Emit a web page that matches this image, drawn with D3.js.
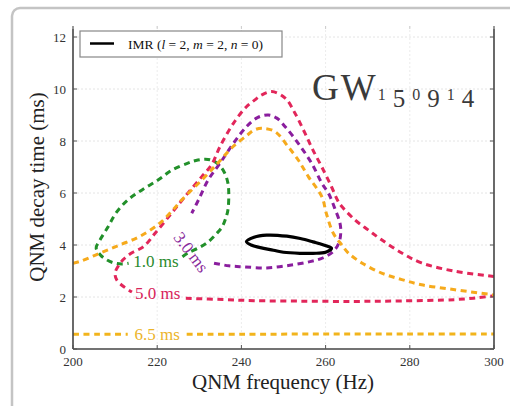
<!DOCTYPE html>
<html><head><meta charset="utf-8">
<script src="https://cdn.jsdelivr.net/npm/d3@7"></script>
<style>html,body{margin:0;padding:0;background:#fff;} svg{display:block;}</style>
</head><body><svg id="c" width="510" height="406"></svg>
<script>
// ---------- data ----------
const xTicks = [200, 220, 240, 260, 280, 300];
const yTicks = [0, 2, 4, 6, 8, 10, 12];
const xLabel = "QNM frequency (Hz)";
const yLabel = "QNM decay time (ms)";
const eventName = ["GW", "1", "5", "0", "9", "1", "4"];

// IMR posterior contour (closed), [frequency Hz, decay time ms]
const imr = [[241.2,4.13],[243,4.3],[246,4.38],[250.8,4.34],[254,4.25],[257,4.12],[260.3,3.96],[261.4,3.87],
  [260,3.72],[257,3.68],[253.9,3.68],[250,3.72],[247.6,3.8],[244.5,3.9],[242.3,4.0]];

// Contours for different start times (null = gap for inline label)
const c1ms = [[226.0,3.55],[227.3,3.69],[230.2,3.92],[232.1,4.12],[234,4.42],[235.4,4.69],[236.3,5.04],[236.8,5.35],
  [237,5.92],[236.8,6.38],[235.9,6.81],[234.4,7.12],[232.8,7.27],[231.4,7.3],[229.2,7.25],[227.3,7.15],[223.5,6.88],
  [220.2,6.5],[216.4,6.12],[213,5.73],[210.2,5.23],[208.3,4.69],[206.4,4.19],[205.5,3.88],[206.5,3.62],[208.1,3.42],
  [209.7,3.31],[211.6,3.27],[213.2,3.3]];
const c3ms = [[233.5,3.3],[237,3.2],[240.5,3.16],[246,3.12],[251.5,3.22],[256.3,3.36],[259.3,3.5],[261.8,3.75],
  [263.2,4.1],[263.6,4.5],[263.4,4.85],[262.2,5.4],[260.8,5.95],[259.1,6.38],[256.7,7.14],[253.5,7.91],[250.4,8.55],
  [248.4,8.88],[246.4,9.0],[243.8,8.9],[241.2,8.55],[238.1,7.91],[234.9,7.14],[232.1,6.5],[229.8,5.73],[228.2,5.22]];
const c5ms = [[300,2.79],[299.5,2.8],[290.7,2.99],[282.8,3.31],[278.1,3.69],[273.3,4.2],[270.1,4.58],[267,4.96],
  [263.8,5.49],[262.9,5.7],[261.4,6.24],[259.1,7.0],[257,7.65],[255.1,8.3],[252.7,9.08],[250.4,9.65],[247.2,9.9],
  [244.8,9.77],[243.2,9.58],[241.2,9.32],[238.1,8.68],[234.9,7.78],[232.9,7.08],[230.6,6.63],[226.6,5.86],[223.4,5.22],
  [219.5,4.45],[216.7,3.93],[214,3.7],[212,3.45],[210.8,3.2],[210.0,2.92],[210.4,2.65],[212.2,2.38],[214,2.19],
  null,
  [226.8,1.95],[236,1.9],[243,1.86],[255,1.84],[267,1.83],[278,1.85],[290.7,1.9],[296,1.97],[300,2.05]];
const c65ms = [[200,3.3],[201.7,3.37],[206.4,3.69],[211.2,4.01],[215.9,4.33],[220.7,4.85],[223.8,5.36],[225.8,5.73],
  [230.6,6.5],[234.4,7.15],[237.8,7.75],[241.2,8.2],[243,8.42],[244.8,8.49],[248,8.36],[251.1,7.78],[253.5,7.27],
  [255.9,6.63],[259.1,5.86],[260.2,5.2],[261.8,4.46],[263.8,4.01],[265.4,3.69],[268.6,3.31],[273.3,2.92],[278.1,2.67],
  [282.8,2.47],[290.7,2.28],[300,2.08]];
const c65msLow = [[200,0.57],[206,0.57],[213,0.57],null,[227,0.57],[240,0.57],[260,0.575],[280,0.58],[300,0.58]];

const contourNames = ["1.0 ms", "3.0 ms", "5.0 ms", "6.5 ms", "6.5 ms"];
const contourData = [c1ms, c3ms, c5ms, c65ms, c65msLow];
const contourColors = ["#22902a", "#8a1e9e", "#e2265a", "#f6aa1c", "#f2b41c"];

// inline label anchors [frequency, decay time]
const labelText = ["1.0 ms", "3.0 ms", "5.0 ms", "6.5 ms"];
const labelPos = [[219.7,3.38],[228.0,3.72],[220.1,2.12],[220.0,0.57]];
const labelAngle = [0, 53, 0, 0];
const labelColors = ["#2a8a2e", "#8a2a9c", "#d8245a", "#ecb42a"];

// ---------- chart ----------
const svg = d3.select("#c");
const FONT = "'Liberation Serif','Times New Roman',serif";
const x = d3.scaleLinear().domain([200, 300]).range([73, 494]);
const y = d3.scaleLinear().domain([0, 12]).range([349, 37]);
const yTop = 26;

// card
svg.append("rect").attr("x", 12).attr("y", 8).attr("width", 540).attr("height", 440).attr("rx", 8)
  .attr("fill", "#fff").attr("stroke", "#c4c4c4").attr("stroke-width", 2.5);

// grid
const grid = svg.append("g");
grid.selectAll("line.gy").data(yTicks.slice(1)).join("line")
  .attr("x1", x(200)).attr("x2", x(300)).attr("y1", d => y(d)).attr("y2", d => y(d))
  .attr("stroke", "#e4e4e4").attr("stroke-width", 1).attr("stroke-dasharray", "2,2");
grid.selectAll("line.gx").data(xTicks.slice(1, -1)).join("line")
  .attr("x1", d => x(d)).attr("x2", d => x(d)).attr("y1", yTop).attr("y2", y(0))
  .attr("stroke", "#ececec").attr("stroke-width", 1).attr("stroke-dasharray", "2,2");

// clip
svg.append("clipPath").attr("id", "pc").append("rect")
  .attr("x", x(200)).attr("y", yTop).attr("width", x(300) - x(200)).attr("height", y(0) - yTop);

const plot = svg.append("g").attr("clip-path", "url(#pc)");
const line = d3.line().defined(d => d !== null).x(d => x(d[0])).y(d => y(d[1])).curve(d3.curveCatmullRom);

contourData.forEach((data, i) => {
  plot.append("path").datum(data).attr("d", line)
    .attr("fill", "none").attr("stroke", contourColors[i]).attr("stroke-width", 3)
    .attr("stroke-dasharray", "6,4.5");
});

// IMR contour
plot.append("path").datum(imr)
  .attr("d", d3.line().x(d => x(d[0])).y(d => y(d[1])).curve(d3.curveCatmullRomClosed))
  .attr("fill", "none").attr("stroke", "#000").attr("stroke-width", 3.2);

// contour labels
labelText.forEach((t, i) => {
  const px = x(labelPos[i][0]), py = y(labelPos[i][1]);
  svg.append("text").attr("transform", `translate(${px},${py}) rotate(${labelAngle[i]})`)
    .attr("text-anchor", "middle").attr("dominant-baseline", "central")
    .attr("font-family", FONT).attr("font-size", 17).attr("fill", labelColors[i]).text(t);
});

// spines
const ax = svg.append("g").attr("stroke", "#444").attr("stroke-width", 1.6).attr("fill", "none");
ax.append("line").attr("x1", x(200)).attr("x2", x(200)).attr("y1", yTop).attr("y2", y(0));
ax.append("line").attr("x1", x(300)).attr("x2", x(300)).attr("y1", yTop).attr("y2", y(0));
ax.append("line").attr("x1", x(200)).attr("x2", x(300)).attr("y1", y(0)).attr("y2", y(0));

// ticks
const tk = svg.append("g").attr("stroke", "#555").attr("stroke-width", 1);
yTicks.forEach(v => {
  tk.append("line").attr("x1", x(200)).attr("x2", x(200) + 4).attr("y1", y(v)).attr("y2", y(v));
  tk.append("line").attr("x1", x(300) - 4).attr("x2", x(300)).attr("y1", y(v)).attr("y2", y(v));
});
xTicks.forEach(v => {
  tk.append("line").attr("x1", x(v)).attr("x2", x(v)).attr("y1", y(0)).attr("y2", y(0) - 4);
  tk.append("line").attr("x1", x(v)).attr("x2", x(v)).attr("y1", yTop).attr("y2", yTop + 3).attr("stroke", "#ccc");
});

// tick labels (clipped at card right)
svg.append("clipPath").attr("id", "lc").append("rect").attr("x", 0).attr("y", 0).attr("width", 504).attr("height", 406);
const tl = svg.append("g").attr("clip-path", "url(#lc)").attr("font-family", FONT).attr("font-size", 13).attr("fill", "#333");
tl.selectAll("text.xt").data(xTicks).join("text")
  .attr("x", d => x(d)).attr("y", 366).attr("text-anchor", "middle").text(d => d);
tl.selectAll("text.yt").data(yTicks).join("text")
  .attr("x", 66).attr("y", d => y(d) + 4.5).attr("text-anchor", "end").text(d => d);

// axis titles
svg.append("text").attr("x", 283).attr("y", 389).attr("text-anchor", "middle")
  .attr("font-family", FONT).attr("font-size", 21).attr("fill", "#222").text(xLabel);
svg.append("text").attr("transform", "translate(44,187) rotate(-90)").attr("text-anchor", "middle")
  .attr("font-family", FONT).attr("font-size", 21).attr("fill", "#222").text(yLabel);

// legend
svg.append("rect").attr("x", 80).attr("y", 31).attr("width", 202).attr("height", 26)
  .attr("fill", "#fff").attr("stroke", "#888").attr("stroke-width", 1.2);
svg.append("line").attr("x1", 90).attr("x2", 114).attr("y1", 43.5).attr("y2", 43.5)
  .attr("stroke", "#000").attr("stroke-width", 2.5);
const lt = svg.append("text").attr("x", 128).attr("y", 48.5)
  .attr("font-family", FONT).attr("font-size", 13.5).attr("fill", "#111");
lt.append("tspan").text("IMR (");
lt.append("tspan").attr("font-style", "italic").text("l");
lt.append("tspan").text(" = 2, ");
lt.append("tspan").attr("font-style", "italic").text("m");
lt.append("tspan").text(" = 2, ");
lt.append("tspan").attr("font-style", "italic").text("n");
lt.append("tspan").text(" = 0)");

// event name, with old-style-like figures
const gw = svg.append("text").attr("x", 312).attr("y", 100)
  .attr("font-family", FONT).attr("fill", "#3a3a3a");
gw.append("tspan").attr("font-size", 37).attr("letter-spacing", 2).text(eventName[0]);
eventName.slice(1).forEach(ch => {
  const desc = (ch === "5" || ch === "9" || ch === "4");
  gw.append("tspan").attr("y", desc ? 107 : 100).attr("font-size", desc ? 25 : 16)
    .attr("letter-spacing", 7).text(ch);
});
</script></body></html>
